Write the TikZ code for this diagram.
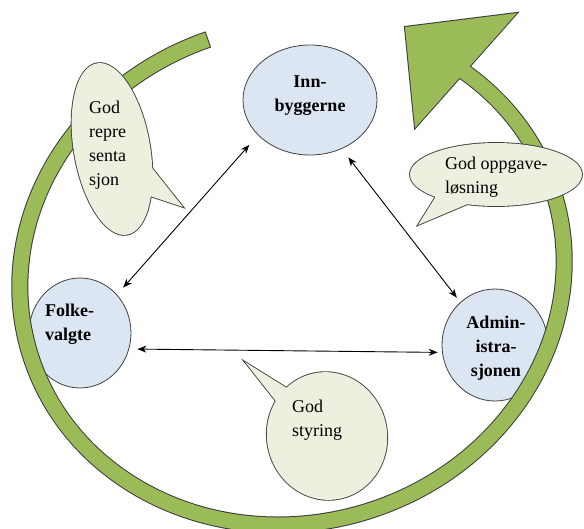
\documentclass[tikz,border=0pt]{standalone}
\usepackage{fontspec}
\setmainfont{Liberation Serif}
\usetikzlibrary{shapes.geometric, arrows.meta}
\definecolor{ringgreen}{HTML}{9BBB59}
\definecolor{ringedge}{HTML}{3A3A3A}
\definecolor{nodeblue}{HTML}{DCE6F2}
\definecolor{bubblegreen}{HTML}{EBF1DE}
\definecolor{edgegray}{HTML}{404040}
\begin{document}
\begin{tikzpicture}[x=1pt,y=-1pt,
  ell/.style={ellipse, draw=edgegray, line width=0.8pt, fill=nodeblue, inner sep=0pt},
  btxt/.style={font=\fontsize{18}{24}\selectfont\bfseries, inner sep=0pt, align=center},
  rtxt/.style={font=\fontsize{18}{24}\selectfont, inner sep=0pt, align=left, anchor=west},
  arr/.style={{Stealth[length=9pt,width=7pt]}-{Stealth[length=9pt,width=7pt]}, line width=0.9pt},
  bubout/.style={draw=edgegray, line width=1.8pt, line join=miter},
  bubfill/.style={fill=bubblegreen},
  ringout/.style={draw=ringedge, line width=2pt, line join=miter},
]
\useasboundingbox (0,0) rectangle (584,528);

% main nodes
\node[ell, minimum width=134pt, minimum height=110pt] (inn) at (310,100) {};
\node[ell, minimum width=102pt, minimum height=110pt] (folke) at (80,333) {};
\node[ell, minimum width=106pt, minimum height=112pt] (admin) at (495,345) {};

% circular arrow: outlines first, then fills (union outline)
\begin{scope}[shift={(292,274)}, rotate=16, y=1pt]
  \draw[ringout] (93.5:281.5 and 256.5) arc[start angle=93.5, end angle=397.3, x radius=281.5, y radius=256.5]
    -- (397.3:266.5 and 241.5) arc[start angle=397.3, end angle=93.5, x radius=266.5, y radius=241.5] -- cycle;
\end{scope}
\draw[ringout] (405,27) -- (517,13) -- (415,128) -- cycle;
\begin{scope}[shift={(292,274)}, rotate=16, y=1pt]
  \fill[ringgreen] (93.5:281.5 and 256.5) arc[start angle=93.5, end angle=397.3, x radius=281.5, y radius=256.5]
    -- (397.3:266.5 and 241.5) arc[start angle=397.3, end angle=93.5, x radius=266.5, y radius=241.5] -- cycle;
\end{scope}
\fill[ringgreen] (405,27) -- (517,13) -- (415,128) -- cycle;

% speech bubble 1
\draw[bubout] (148,163) -- (183,207) -- (150,196) -- cycle;
\draw[bubout, rotate around={10:(112,149)}] (112,149) ellipse [x radius=38, y radius=87];
\fill[bubfill] (148,163) -- (183,207) -- (150,196) -- cycle;
\fill[bubfill, rotate around={10:(112,149)}] (112,149) ellipse [x radius=38, y radius=87];

% speech bubble 2
\draw[bubout] (438,193) -- (418,225) -- (470,203) -- cycle;
\draw[bubout] (496,174.5) ellipse [x radius=86, y radius=31.5];
\fill[bubfill] (438,193) -- (418,225) -- (470,203) -- cycle;
\fill[bubfill] (496,174.5) ellipse [x radius=86, y radius=31.5];

% speech bubble 3
\draw[bubout] (290,390) -- (245,362) -- (279,405) -- cycle;
\draw[bubout, rotate around={12:(327,436)}] (327,436) ellipse [x radius=60, y radius=64];
\fill[bubfill] (290,390) -- (245,362) -- (279,405) -- cycle;
\fill[bubfill, rotate around={12:(327,436)}] (327,436) ellipse [x radius=60, y radius=64];

% texts
\node[btxt] (inntxt) at (310,96) {Inn-\\byggerne};
\node[btxt, align=left, anchor=west] (folketxt) at (45,324) {Folke-\\valgte};
\node[btxt] (admintxt) at (496,348) {Admin-\\istra-\\sjonen};
\node[rtxt] (b1txt) at (89,145) {God\\repre\\senta\\sjon};
\node[rtxt] (b2txt) at (445,177) {God oppgave-\\løsning};
\node[rtxt] (b3txt) at (292,420) {God\\styring};

% connectors
\draw[arr, shorten <=13pt, shorten >=9.3pt] (inn.214) -- (folke.46);
\draw[arr, shorten <=10.7pt, shorten >=5.7pt] (inn.303) -- (admin.129);
\draw[arr, shorten <=8.2pt, shorten >=4.4pt] (folke.342) -- (admin.188);
\end{tikzpicture}
\end{document}
